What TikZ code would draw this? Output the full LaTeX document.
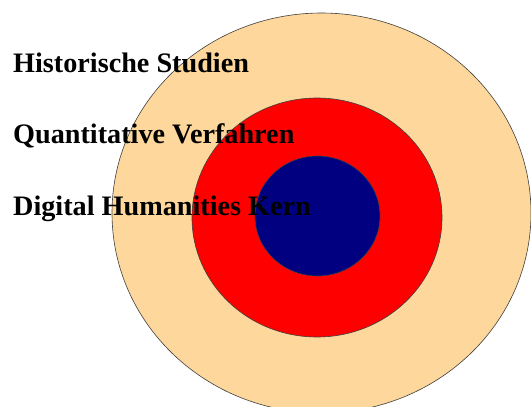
\documentclass[tikz,border=0pt]{standalone}
\usepackage{fontspec}
\setmainfont{Liberation Serif}
\definecolor{peach}{RGB}{253,215,155}
\definecolor{navyblue}{RGB}{0,0,128}
\begin{document}
\begin{tikzpicture}[x=1pt,y=-1pt,
  ring/.style={draw=black!75,line width=0.6pt},
  lbl/.style={anchor=base west,inner sep=0pt,font=\bfseries\fontsize{28.2}{32}\selectfont,text=black}]
\useasboundingbox (0,0) rectangle (531,407);
\clip (0,0) rectangle (531,407);
\fill[white] (0,0) rectangle (531,407);
\draw[ring,fill=peach] (321.5,213) ellipse [x radius=209.5, y radius=200];
\draw[ring,fill=red] (317,217.5) ellipse [x radius=125, y radius=119.5];
\draw[ring,fill=navyblue] (317.5,216) ellipse [x radius=62.5, y radius=60];
\node[lbl] (hist) at (13,72) {Historische Studien};
\node[lbl] (quant) at (13,143) {Quantitative Verfahren};
\node[lbl] (kern) at (13,215) {Digital Humanities Kern};
\end{tikzpicture}
\end{document}
